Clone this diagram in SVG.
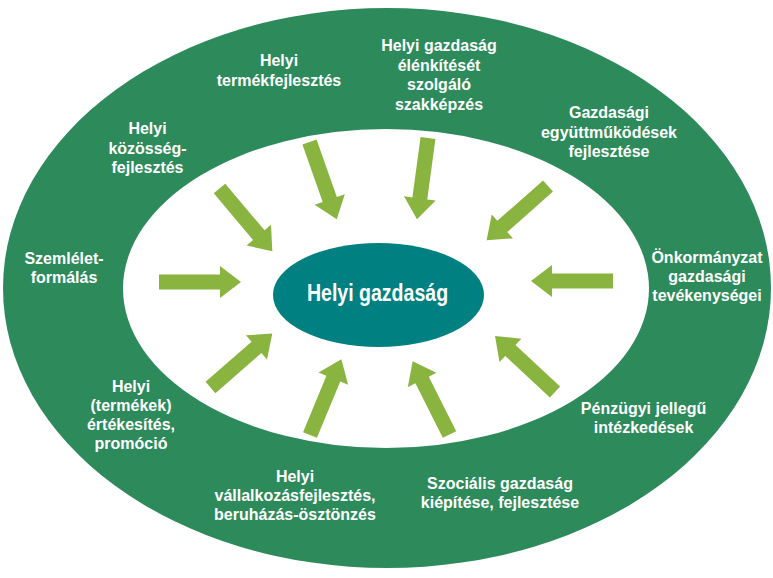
<svg xmlns="http://www.w3.org/2000/svg" xmlns:xlink="http://www.w3.org/1999/xlink" width="773" height="578" viewBox="0 0 773 578">
<style>
.lbl{font-family:"Liberation Sans",Arial,sans-serif;font-weight:bold;font-size:16px;fill:#ffffff;text-anchor:middle}
.arr{fill:#89b440}
</style>
<defs>
<path id="arrow" d="M0,-7.5 L61,-7.5 L61,-16 L82,0 L61,16 L61,7.5 L0,7.5 Z"/>
</defs>
<rect width="773" height="578" fill="#ffffff"/>
<g id="ring">
<ellipse cx="387" cy="288" rx="384" ry="280" fill="#2d8a5b"/>
<ellipse cx="386" cy="288.5" rx="263" ry="159.5" fill="#ffffff"/>
</g>
<g id="connectors" class="arr">
<use xlink:href="#arrow" transform="translate(159,282) rotate(0)"/>
<use xlink:href="#arrow" transform="translate(613,281) rotate(180)"/>
<use xlink:href="#arrow" transform="translate(548,186) rotate(138.5)"/>
<use xlink:href="#arrow" transform="translate(219.5,188.5) rotate(49.9)"/>
<use xlink:href="#arrow" transform="translate(309.5,142) rotate(70.6)"/>
<use xlink:href="#arrow" transform="translate(428,138) rotate(97.7)"/>
<use xlink:href="#arrow" transform="translate(210.5,387.5) rotate(-41.1)"/>
<use xlink:href="#arrow" transform="translate(310,435) rotate(-67.5)"/>
<use xlink:href="#arrow" transform="translate(449.5,434.5) rotate(-116.7)"/>
<use xlink:href="#arrow" transform="translate(555,392) rotate(-137)"/>
</g>
<g id="center">
<ellipse cx="378.5" cy="295" rx="105.5" ry="52" fill="#008080"/>
<text class="lbl" style="font-size:23px" transform="translate(377.5,300.5) scale(0.85,1)" x="0" y="0">Helyi gazdaság</text>
</g>
<g id="n-termekfejlesztes">
<text class="lbl" x="279" y="66">Helyi</text>
<text class="lbl" x="279" y="86">termékfejlesztés</text>
</g>
<g id="n-kozossegfejlesztes">
<text class="lbl" x="147.5" y="134">Helyi</text>
<text class="lbl" x="147.5" y="154">közösség-</text>
<text class="lbl" x="147.5" y="173">fejlesztés</text>
</g>
<g id="n-szakkepzes">
<text class="lbl" x="439" y="51">Helyi gazdaság</text>
<text class="lbl" x="439" y="70.5">élénkítését</text>
<text class="lbl" x="439" y="90">szolgáló</text>
<text class="lbl" x="439" y="109.5">szakképzés</text>
</g>
<g id="n-egyuttmukodes">
<text class="lbl" x="609" y="118">Gazdasági</text>
<text class="lbl" x="609" y="138">együttműködések</text>
<text class="lbl" x="609" y="157">fejlesztése</text>
</g>
<g id="n-szemlelet">
<text class="lbl" x="64" y="264">Szemlélet-</text>
<text class="lbl" x="64" y="283">formálás</text>
</g>
<g id="n-onkormanyzat">
<text class="lbl" x="707" y="263">Önkormányzat</text>
<text class="lbl" x="707" y="282">gazdasági</text>
<text class="lbl" x="707" y="301">tevékenységei</text>
</g>
<g id="n-ertekesites">
<text class="lbl" x="131" y="392">Helyi</text>
<text class="lbl" x="131" y="411">(termékek)</text>
<text class="lbl" x="131" y="430">értékesítés,</text>
<text class="lbl" x="131" y="448.5">promóció</text>
</g>
<g id="n-vallalkozas">
<text class="lbl" x="295" y="482">Helyi</text>
<text class="lbl" x="295" y="501">vállalkozásfejlesztés,</text>
<text class="lbl" x="295" y="520">beruházás-ösztönzés</text>
</g>
<g id="n-szocialis">
<text class="lbl" x="500" y="489">Szociális gazdaság</text>
<text class="lbl" x="500" y="508">kiépítése, fejlesztése</text>
</g>
<g id="n-penzugyi">
<text class="lbl" x="643.5" y="414">Pénzügyi jellegű</text>
<text class="lbl" x="643.5" y="433">intézkedések</text>
</g>
</svg>
